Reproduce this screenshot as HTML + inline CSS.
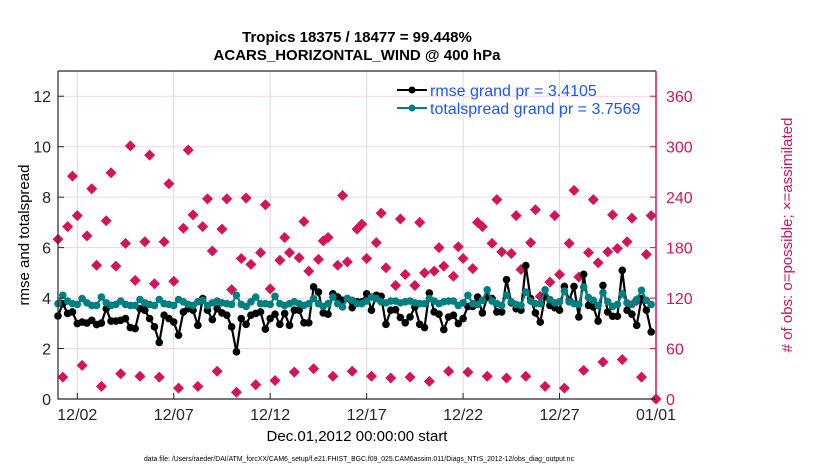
<!DOCTYPE html>
<html><head><meta charset="utf-8"><style>
body{margin:0;background:#fff;width:830px;height:470px;overflow:hidden;font-family:"Liberation Sans",Arial,sans-serif}
svg text{font-family:"Liberation Sans",Arial,sans-serif}
</style></head><body>
<svg id="chart" width="830" height="470" xmlns="http://www.w3.org/2000/svg">
<g id="grid"></g>
<g id="obs"></g>
<g id="lines"></g>
<g id="axes"></g>
<text x="357" y="42" text-anchor="middle" font-size="15" font-weight="bold">Tropics 18375 / 18477 = 99.448%</text>
<text x="357" y="60" text-anchor="middle" font-size="15" font-weight="bold">ACARS_HORIZONTAL_WIND @ 400 hPa</text>
<text transform="translate(29,235) rotate(-90)" text-anchor="middle" font-size="15">rmse and totalspread</text>
<text transform="translate(792,235) rotate(-90)" text-anchor="middle" font-size="15" fill="#d4145a"># of obs: o=possible; ×=assimilated</text>
<text x="357" y="441" text-anchor="middle" font-size="15">Dec.01,2012 00:00:00 start</text>
<text x="359" y="461" text-anchor="middle" font-size="7" textLength="430" lengthAdjust="spacingAndGlyphs">data file: /Users/raeder/DAI/ATM_forcXX/CAM6_setup/f.e21.FHIST_BGC.f09_025.CAM6assim.011/Diags_NTrS_2012-12/obs_diag_output.nc</text>
<g>
<line x1="397" y1="90" x2="427" y2="90" stroke="#000" stroke-width="2"/>
<circle cx="412" cy="90" r="3.5" fill="#000"/>
<text x="430" y="96" font-size="16" fill="#1a56ff">rmse grand pr = 3.4105</text>
<line x1="397" y1="108" x2="427" y2="108" stroke="#008080" stroke-width="2"/>
<circle cx="412" cy="108" r="3.5" fill="#008080"/>
<text x="430" y="114" font-size="16" fill="#1a56ff">totalspread grand pr = 3.7569</text>
</g>
</svg>
<script>
const rmse = [3.29,3.78,3.39,3.45,2.99,3.05,3.01,3.12,2.95,3.01,3.58,3.09,3.09,3.12,3.19,2.83,2.79,3.58,3.52,3.19,2.86,2.24,3.32,3.19,3.05,2.53,3.45,3.58,3.52,2.92,3.98,3.52,
3.15,3.58,3.41,3.32,2.86,1.87,3.19,2.96,3.32,3.39,3.45,2.77,3.19,3.36,2.96,3.39,2.92,3.52,3.52,3.02,3.02,4.44,4.24,3.41,3.36,4.17,4.04,3.91,3.98,3.62,3.85,
3.85,4.17,3.52,4.11,4.07,2.96,3.52,3.54,3.23,3.02,3.25,3.65,2.96,2.83,4.20,3.45,3.36,2.75,3.25,3.32,2.99,3.19,3.67,3.67,4.04,3.41,4.04,3.98,3.45,3.45,4.73,
3.81,3.58,3.52,5.29,3.98,3.41,3.05,4.07,3.71,3.62,3.52,4.46,3.91,4.46,3.25,4.94,3.71,3.65,3.09,4.50,3.45,3.28,3.28,5.10,3.52,3.36,2.92,3.98,3.52,2.66];
const totalspread = [3.78,4.11,3.88,3.78,3.75,3.98,3.81,3.71,3.71,4.04,3.81,3.71,3.75,3.88,3.75,3.71,3.71,3.94,3.81,3.75,3.71,3.94,3.78,3.75,3.71,3.94,3.85,3.75,3.71,3.85,3.91,3.71,
3.81,3.88,3.81,3.78,3.75,4.11,3.75,3.67,3.85,4.04,3.78,3.78,3.75,4.07,3.78,3.71,3.78,3.85,3.78,3.71,3.78,3.98,3.78,3.67,3.78,4.04,3.78,3.65,3.98,3.91,3.78,
3.78,3.88,4.04,3.98,3.85,3.81,3.88,3.88,3.81,3.85,3.88,3.81,3.78,3.78,3.98,3.88,3.78,3.85,3.88,3.88,3.71,3.81,4.11,3.78,3.75,3.91,4.33,3.88,3.78,3.71,4.11,
3.85,3.75,3.71,4.24,3.88,3.78,3.78,4.33,3.94,3.81,3.85,4.28,3.85,3.78,3.75,4.44,4.02,3.91,3.71,4.21,3.85,3.67,3.75,4.17,3.81,3.75,3.94,4.31,3.91,3.75];
const obsCount = [190,26,205,265,218,40,194,250,159,15,212,269,158,30,185,301,141,27,187,290,137,26,187,256,140,13,203,296,219,15,205,238,176,
33,202,238,130,8,167,239,160,17,174,231,131,22,165,192,174,32,168,211,152,36,166,188,192,27,159,242,163,33,202,
208,167,27,186,221,156,25,135,214,148,26,135,210,150,21,152,180,158,33,146,181,167,32,155,210,205,27,185,237,175,25,173,
218,154,27,186,225,122,15,139,218,148,13,185,248,145,34,174,237,162,44,175,219,179,47,187,215,117,26,172,218,0];
const leftTicks = [0,2,4,6,8,10,12];
const rightTicks = [0,60,120,180,240,300,360];
const xTickDays = [1,6,11,16,21,26,31];
const xTickLabels = ["12/02","12/07","12/12","12/17","12/22","12/27","01/01"];
const stepDays = 0.25;

const L=58,R=656,T=71,B=399;
const xs=d=>L+(d/31)*(R-L);
const yl=v=>B-(v/13)*(B-T);
const yr=v=>B-(v/390)*(B-T);
const NS="http://www.w3.org/2000/svg";
function mk(tag,attrs,parent){const e=document.createElementNS(NS,tag);for(const k in attrs)e.setAttribute(k,attrs[k]);parent.appendChild(e);return e;}
const grid=document.getElementById('grid'),axes=document.getElementById('axes'),obs=document.getElementById('obs'),lines=document.getElementById('lines');

xTickDays.forEach((d,i)=>{
  const g=mk('line',{x1:xs(d),x2:xs(d),y1:T,y2:B,stroke:'#d9d9d9','stroke-width':1},grid);
  
  
  const t=mk('line',{x1:xs(d),x2:xs(d),y1:B,y2:B-6,stroke:'#262626'},axes);
  
  
  const lb=mk('text',{x:xs(d),y:B+21,'text-anchor':'middle','font-size':16,fill:'#262626'},axes);
  lb.textContent=xTickLabels[i];
  
  
});
rightTicks.forEach(v=>{
  if(v>0){const g=mk('line',{x1:L,x2:R,y1:yr(v),y2:yr(v),stroke:'#f5d3e0','stroke-width':1},grid);
  
  }
  const t=mk('line',{x1:R,x2:R-6,y1:yr(v),y2:yr(v),stroke:'#d4145a'},axes);
  
  
  const lb=mk('text',{x:R+10,y:yr(v)+6,'font-size':16,fill:'#d4145a'},axes);
  lb.textContent=v;
  
  
});
leftTicks.forEach(v=>{
  const t=mk('line',{x1:L,x2:L+6,y1:yl(v),y2:yl(v),stroke:'#262626'},axes);
  
  
  const lb=mk('text',{x:L-7,y:yl(v)+6,'text-anchor':'end','font-size':16,fill:'#262626'},axes);
  lb.textContent=v;
  
  
});
const ax1=mk('path',{d:`M${L},${T}V${B}H${R}M${L},${T}H${R}`,stroke:'#262626',fill:'none','stroke-width':1.2},axes);


const ax2=mk('line',{x1:R,x2:R,y1:T,y2:B,stroke:'#d4145a','stroke-width':1.5},axes);



obsCount.forEach((v,i)=>{
  const x=xs(i*stepDays),y=yr(v);
  const p=mk('path',{d:`M${x},${y-5.5}L${x+5.5},${y}L${x},${y+5.5}L${x-5.5},${y}Z`,fill:'#d4145a'},obs);
  
  
});
function series(vals,color,name){
  const d=vals.map((v,i)=>(i?'L':'M')+xs(i*stepDays).toFixed(1)+','+yl(v).toFixed(1)).join('');
  const pl=mk('path',{d:d,stroke:color,'stroke-width':2.2,fill:'none'},lines);
  
  
  vals.forEach((v,i)=>{
    const c=mk('circle',{cx:xs(i*stepDays),cy:yl(v),r:3.8,fill:color},lines);
    
    
  });
}
series(rmse,'#000','rmse');
series(totalspread,'#008080','totalspread');
</script>
</body></html>
